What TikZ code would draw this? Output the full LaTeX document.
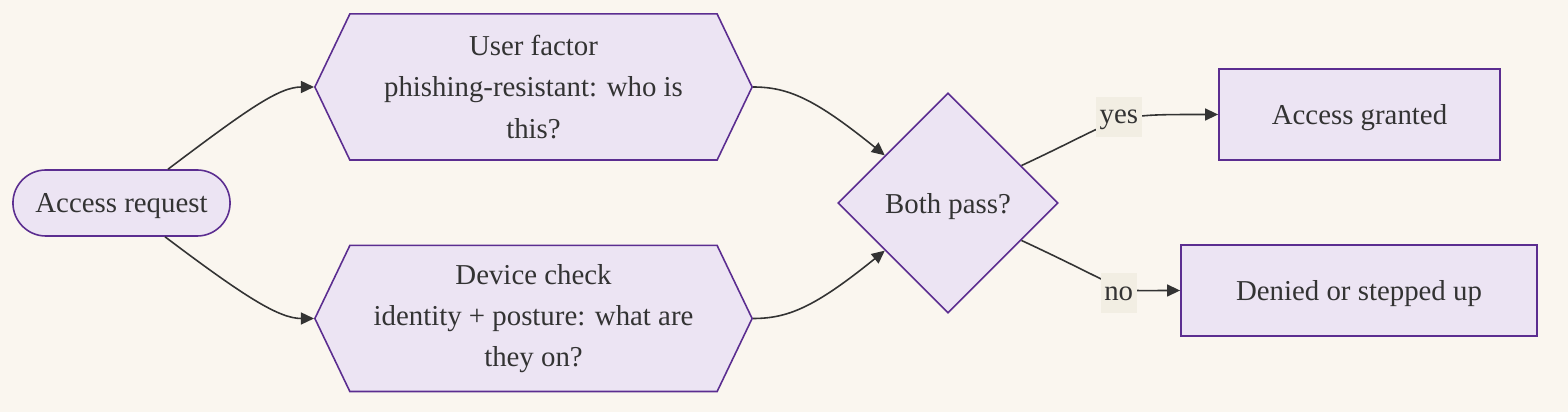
\documentclass[tikz,border=0pt]{standalone}
\usepackage{fontspec}
\setmainfont{Liberation Serif}
\usetikzlibrary{arrows.meta,shapes.geometric,shapes.symbols}
\definecolor{paper}{HTML}{FAF6EF}
\definecolor{lilac}{HTML}{ECE4F3}
\definecolor{plum}{HTML}{5B2D90}
\definecolor{ink}{HTML}{333333}
\definecolor{tag}{HTML}{F2EEE3}

\begin{document}
\begin{tikzpicture}[
  x=0.01cm, y=0.01cm,
  font=\fontsize{8.2}{11.7}\selectfont, text=ink,
  box/.style={draw=plum, fill=lilac, line width=0.45pt, align=center},
  term/.style={box, rounded corners=0.33cm, minimum width=2.17cm, minimum height=0.66cm, text depth=0pt},
  hexa/.style={box, signal, signal to=west and east, signal pointer angle=128.8,
               minimum width=4.37cm, minimum height=1.46cm, inner xsep=0pt},
  choice/.style={box, diamond, aspect=1, minimum width=2.2cm, minimum height=2.2cm, inner sep=0pt, text depth=0pt},
  result/.style={box, minimum height=0.91cm, text depth=0pt},
  flow/.style={-{Triangle[length=3.7pt,width=3.4pt]}, draw=ink, line width=0.45pt},
  tagged/.style={fill=tag, text=ink, inner sep=1pt, minimum height=0.4cm, text depth=0pt}]
  \fill[paper] (0,0) rectangle (1568,412);
  \useasboundingbox (0,0) rectangle (1568,412);
  % nodes
  \node[term] (req) at (121.5,209) {Access request};
  \node[hexa] (user) at (533.5,325) {User factor\\phishing-resistant: who is\\this?};
  \node[hexa] (dev) at (533.5,93.5) {Device check\\identity + posture: what are\\they on?};
  \node[choice] (both) at (948,209) {Both pass?};
  \node[result, minimum width=2.81cm] (grant) at (1359.5,297.5) {Access granted};
  \node[result, minimum width=3.56cm] (deny) at (1359,121.5) {Denied or stepped up};
  % connectors
  \draw[flow] ([xshift=0.465cm]req.north) .. controls +(37:100) and +(-35,0) .. (user.west);
  \draw[flow] ([xshift=0.435cm]req.south) .. controls +(-37:100) and +(-35,0) .. (dev.west);
  \draw[flow] (user.east) .. controls +(35,0) and +(141:90) .. (both.143);
  \draw[flow] (dev.east) .. controls +(35,0) and +(219:90) .. (both.217);
  \draw[flow] (both.27) .. controls +(25:121) and +(-112,0) .. node[tagged, yshift=0.04cm] {yes} (grant.west);
  \draw[flow] (both.-27) .. controls +(-25:131) and +(-71,0) .. node[tagged, yshift=-0.07cm] {no} (deny.west);
\end{tikzpicture}
\end{document}
